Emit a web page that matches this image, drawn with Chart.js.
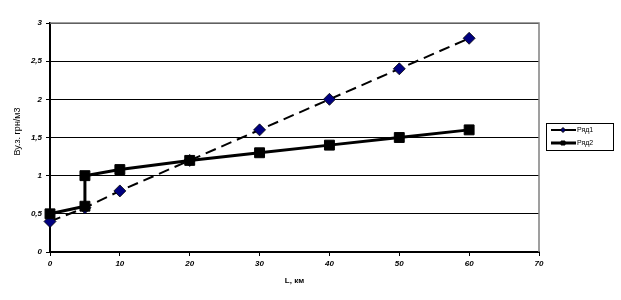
<!DOCTYPE html>
<html><head><meta charset="utf-8">
<script src="https://cdn.jsdelivr.net/npm/chart.js@4"></script>
<style>html,body{margin:0;padding:0;background:#fff}#c{display:block}</style>
</head><body>
<canvas id="c" width="621" height="300"></canvas>
<script>
const seriesNames = ["Ряд1", "Ряд2"];
const xs1 = [0, 5, 10, 20, 30, 40, 50, 60];
const ys1 = [0.4, 0.58, 0.8, 1.2, 1.6, 2.0, 2.4, 2.8];
const xs2 = [0, 5, 5, 10, 20, 30, 40, 50, 60];
const ys2 = [0.5, 0.6, 1.0, 1.08, 1.2, 1.3, 1.4, 1.5, 1.6];
const xTitle = "L, км";
const yTitle = "Ву.з. грн/м3";

const toPts = (xs, ys) => xs.map((x, i) => ({x: x, y: ys[i]}));
const FONT = "'Liberation Sans', Arial, sans-serif";

const framePlugin = {
  id: 'frame',
  beforeDatasetsDraw(chart) {
    const a = chart.chartArea, ctx = chart.ctx;
    ctx.save();
    ctx.strokeStyle = '#808080';
    ctx.lineWidth = 1.5;
    ctx.beginPath();
    ctx.moveTo(a.left, a.top); ctx.lineTo(a.right, a.top); ctx.lineTo(a.right, a.bottom);
    ctx.stroke();
    ctx.restore();
  }
};

const yTitlePlugin = {
  id: 'yTitle',
  afterDraw(chart) {
    const ctx = chart.ctx, a = chart.chartArea;
    ctx.save();
    ctx.translate(18, (a.top + a.bottom) / 2 - 6);
    ctx.rotate(-Math.PI / 2);
    ctx.font = "9px " + FONT;
    ctx.fillStyle = '#000';
    ctx.textAlign = 'center';
    ctx.textBaseline = 'middle';
    ctx.fillText(yTitle, 0, 0);
    ctx.restore();
  }
};

const legendPlugin = {
  id: 'boxLegend',
  afterDraw(chart) {
    const ctx = chart.ctx;
    const x0 = 546, y0 = 123, w = 67, h = 27;
    ctx.save();
    ctx.strokeStyle = '#000'; ctx.lineWidth = 1;
    ctx.strokeRect(x0 + 0.5, y0 + 0.5, w, h);
    ctx.font = "7px " + FONT;
    ctx.fillStyle = '#000';
    ctx.textBaseline = 'middle';
    chart.data.datasets.forEach((ds, i) => {
      const y = y0 + 7 + i * 13;
      ctx.strokeStyle = ds.borderColor;
      ctx.lineWidth = ds.borderWidth;
      ctx.setLineDash([]);
      ctx.beginPath(); ctx.moveTo(x0 + 5, y); ctx.lineTo(x0 + 30, y); ctx.stroke();
      ctx.fillStyle = ds.pointBackgroundColor;
      ctx.strokeStyle = '#000'; ctx.lineWidth = 1;
      const cx = x0 + 17, r = i === 0 ? 2.5 : 2;
      ctx.beginPath();
      if (i === 0) { ctx.moveTo(cx, y - r); ctx.lineTo(cx + r, y); ctx.lineTo(cx, y + r); ctx.lineTo(cx - r, y); ctx.closePath(); }
      else { ctx.rect(cx - r, y - r, 2 * r, 2 * r); }
      ctx.fill(); ctx.stroke();
      ctx.fillStyle = '#000';
      ctx.fillText(ds.label, x0 + 31, y);
    });
    ctx.restore();
  }
};

new Chart(document.getElementById('c'), {
  type: 'scatter',
  data: {
    datasets: [
      {
        label: seriesNames[0], data: toPts(xs1, ys1), showLine: true, order: 1, clip: false,
        borderColor: '#000', borderWidth: 2, borderDash: [11, 6],
        pointStyle: 'rectRot', pointRadius: 6, pointBackgroundColor: '#000080',
        pointBorderColor: '#000', pointBorderWidth: 0.8
      },
      {
        label: seriesNames[1], data: toPts(xs2, ys2), showLine: true, order: 0, clip: false,
        borderColor: '#000', borderWidth: 3,
        pointStyle: 'rect', pointRadius: 7, pointBackgroundColor: '#000',
        pointBorderColor: '#000', pointBorderWidth: 1
      }
    ]
  },
  options: {
    responsive: false, animation: false,
    layout: {padding: {top: 23, right: 82, left: 0, bottom: 0}},
    plugins: {legend: {display: false}, tooltip: {enabled: false}},
    scales: {
      x: {
        type: 'linear', min: 0, max: 70,
        afterFit(s) { s.height = 48; },
        ticks: {stepSize: 10, color: '#000', font: {family: FONT, size: 8, style: 'italic', weight: 'bold'}, padding: 3, maxRotation: 0},
        grid: {drawOnChartArea: false, color: '#000', tickLength: 4, tickWidth: 1},
        border: {color: '#000', width: 2},
        title: {display: true, text: xTitle, color: '#000', font: {family: FONT, size: 8, weight: 'bold'}, padding: {top: 4, bottom: 14}}
      },
      y: {
        min: 0, max: 3,
        afterFit(s) { s.width = 50; },
        ticks: {stepSize: 0.5, color: '#000', font: {family: FONT, size: 8, style: 'italic', weight: 'bold'}, padding: 4,
          callback: v => String(v).replace('.', ',')},
        grid: {color: '#000', lineWidth: 1, tickLength: 4},
        border: {color: '#000', width: 2},
        title: {display: false}
      }
    }
  },
  plugins: [framePlugin, yTitlePlugin, legendPlugin]
});
</script>
</body></html>
